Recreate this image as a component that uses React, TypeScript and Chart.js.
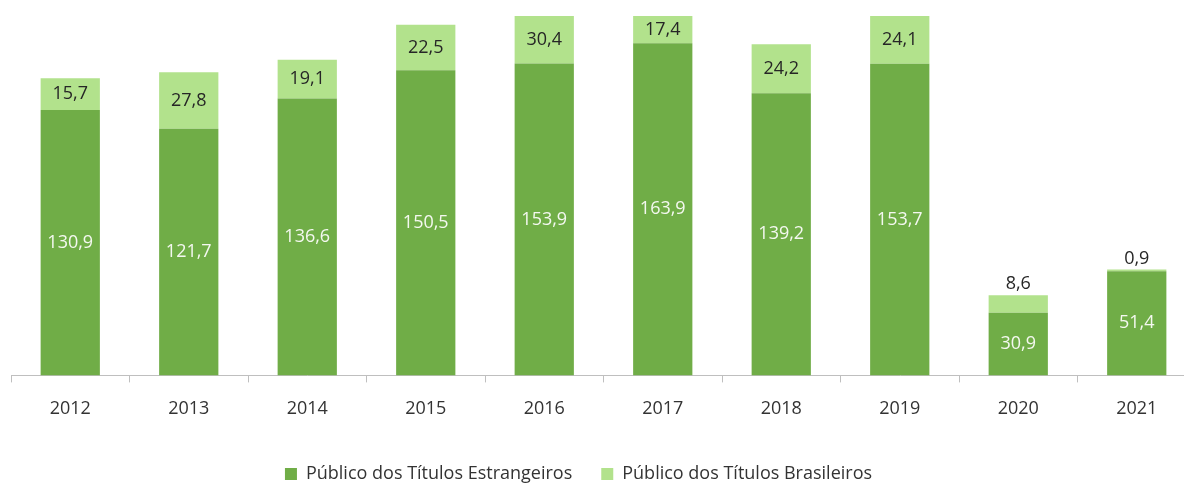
import React, { useEffect, useRef } from "react";
import { Chart, registerables } from "chart.js";

Chart.register(...registerables);

const years = ["2012", "2013", "2014", "2015", "2016", "2017", "2018", "2019", "2020", "2021"];
const estrangeiros = [130.9, 121.7, 136.6, 150.5, 153.9, 163.9, 139.2, 153.7, 30.9, 51.4];
const brasileiros = [15.7, 27.8, 19.1, 22.5, 30.4, 17.4, 24.2, 24.1, 8.6, 0.9];
const seriesNames = ["Público dos Títulos Estrangeiros", "Público dos Títulos Brasileiros"];

const DARK = "#70ad47";
const LIGHT = "#b2e28c";
const FONT = "'Open Sans', 'Noto Sans', sans-serif";
const FS = 18;

const fmt = (v: number) => v.toFixed(1).replace(".", ",");

const labelPlugin = {
  id: "segLabels",
  afterDatasetsDraw(chart: any) {
    const { ctx, chartArea } = chart;
    ctx.save();
    ctx.font = `${FS}px ${FONT}`;
    ctx.textAlign = "center";
    ctx.textBaseline = "middle";
    chart.data.datasets.forEach((ds: any, di: number) => {
      const meta = chart.getDatasetMeta(di);
      meta.data.forEach((el: any, i: number) => {
        const v = ds.data[i] as number;
        const { x, y, base } = el.getProps(["x", "y", "base"], true);
        const top = Math.max(Math.min(y, base), chartArea.top);
        const bottom = Math.max(y, base);
        let ly: number;
        let color: string;
        if (di === 1 && v < 10) {
          ly = top - 11;
          color = "#262626";
        } else {
          ly = (top + bottom) / 2;
          color = di === 0 ? "#f4f8f0" : "#262626";
        }
        ctx.fillStyle = color;
        ctx.fillText(fmt(v), x, ly);
      });
    });
    ctx.restore();
  },
};

const legendShift = {
  id: "legendShift",
  afterLayout(chart: any) {
    if (chart.legend) {
      chart.legend.left -= 25;
      chart.legend.right -= 25;
    }
  },
};

export default function App() {
  const ref = useRef<HTMLCanvasElement>(null);
  useEffect(() => {
    if (!ref.current) return;
    const chart = new Chart(ref.current, {
      type: "bar",
      data: {
        labels: years,
        datasets: [
          {
            label: seriesNames[0],
            data: estrangeiros,
            backgroundColor: DARK,
            borderWidth: 0,
            clip: 0,
            categoryPercentage: 1,
            barPercentage: 0.5,
          },
          {
            label: seriesNames[1],
            data: brasileiros,
            backgroundColor: LIGHT,
            borderWidth: 0,
            clip: 0,
            categoryPercentage: 1,
            barPercentage: 0.5,
          },
        ],
      },
      options: {
        animation: false,
        responsive: false,
        devicePixelRatio: 1,
        layout: { padding: { left: 51, right: 0, top: 16, bottom: 0 } },
        plugins: {
          legend: {
            position: "bottom",
            labels: {
              boxWidth: 12,
              boxHeight: 12,
              padding: 29,
              color: "#333333",
              font: { family: FONT, size: FS },
            },
          },
          tooltip: { enabled: false },
        },
        scales: {
          x: {
            stacked: true,
            grid: {
              display: true,
              drawOnChartArea: false,
              drawTicks: true,
              tickLength: 7,
              offset: true,
              color: "#bfbfbf",
            },
            border: { display: true, color: "#bfbfbf", width: 1 },
            ticks: {
              padding: 16,
              color: "#333333",
              font: { family: FONT, size: FS },
              maxRotation: 0,
            },
          },
          y: {
            stacked: true,
            display: false,
            min: 0,
            max: 177.3,
          },
        },
      },
      plugins: [labelPlugin, legendShift],
    } as any);
    return () => chart.destroy();
  }, []);
  return (
    <div style={{ position: "fixed", left: 0, top: 0, width: "100vw", height: "100vh", overflow: "hidden", background: "#fff" }}>
      <div style={{ position: "absolute", left: -40, top: 0, width: 1236, height: 493 }}>
        <canvas ref={ref} width={1236} height={493} style={{ width: 1236, height: 493, display: "block" }} />
      </div>
    </div>
  );
}
